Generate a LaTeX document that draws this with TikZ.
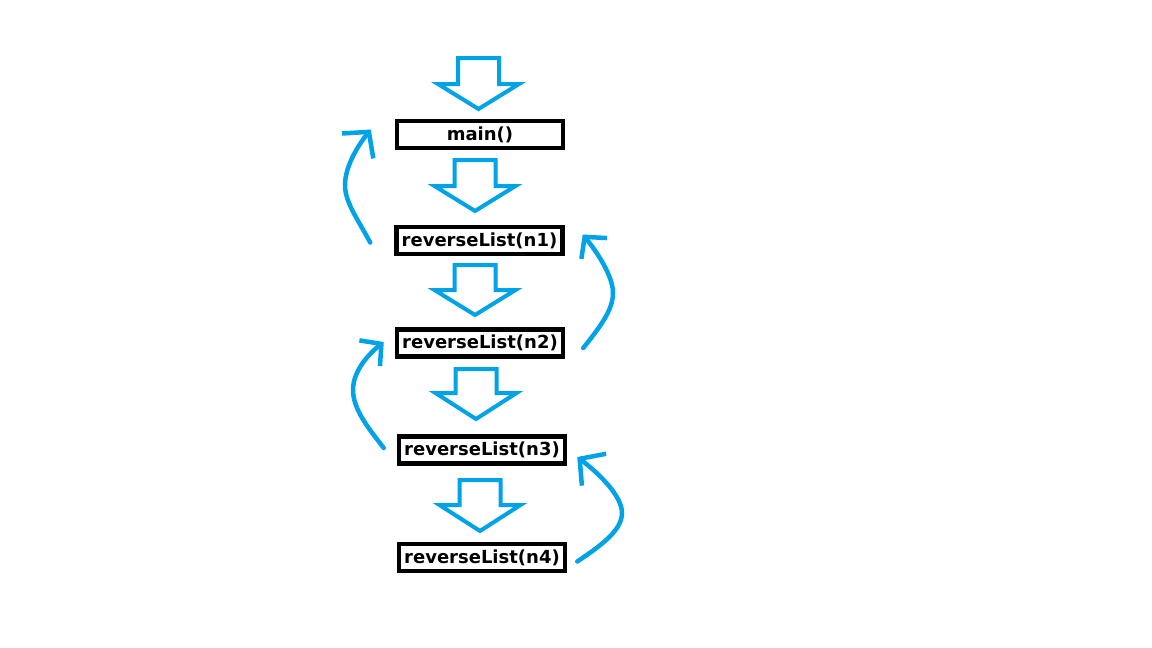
\documentclass[tikz,border=0pt]{standalone}
\usepackage{fontspec}
\setmainfont{DejaVu Sans}
\usetikzlibrary{arrows.meta}
\definecolor{callblue}{RGB}{0,162,232}
\tikzset{
  frame/.style = {draw = black, line width = 4.5pt, minimum width = 166pt, minimum height = 27pt,
                  inner sep = 0pt, font = \fontsize{18}{20}\selectfont\bfseries},
  callarrow/.style = {draw = callblue, line width = 4pt, line join = miter},
  backarrow/.style = {draw = callblue, line width = 4.5pt, line cap = round,
                      -{Straight Barb[length = 15pt, width = 33pt]}},
  bigback/.style = {backarrow, -{Straight Barb[length = 18pt, width = 40pt]}}
}
\begin{document}
\begin{tikzpicture}[x = 1pt, y = -1pt]
        \useasboundingbox[fill = white] (0,0) rectangle (1152,648);
        % call frames
        \node[frame] (main) at (480,134.5) {main()};
        \node[frame] (n1) at (479.5,240.5) {reverseList(n1)};
        \node[frame] (n2) at (480,343) {reverseList(n2)};
        \node[frame] (n3) at (482,450) {reverseList(n3)};
        \node[frame] (n4) at (482,557.5) {reverseList(n4)};
        % calls going down
        \foreach \cx/\top/\sh/\tip in {478.5/58/84/109, 475/160/186/211, 475/265/290/315,
                                       476/369/393/419, 480/480/505/531}
            \draw[callarrow] ({\cx-20.5},\top) -- ({\cx+20.5},\top) -- ({\cx+20.5},\sh)
                -- ({\cx+40.5},\sh) -- (\cx,\tip) -- ({\cx-40.5},\sh) -- ({\cx-20.5},\sh) -- cycle;
        % returns going up
        \coordinate (r1a) at ([xshift = -24pt, yshift = -2pt]n1.west);
        \coordinate (r1b) at ([xshift = -24pt, yshift = 5pt]main.west);
        \coordinate (r2a) at ([xshift = 18pt, yshift = -5pt]n2.east);
        \coordinate (r2b) at ([xshift = 18pt, yshift = 6pt]n1.east);
        \coordinate (r3a) at ([xshift = -13pt, yshift = 2pt]n3.west);
        \coordinate (r3b) at ([xshift = -11pt, yshift = 1pt]n2.west);
        \coordinate (r4a) at ([xshift = 10pt, yshift = -4pt]n4.east);
        \coordinate (r4b) at ([xshift = 10pt, yshift = -7pt]n3.east);
        \draw[bigback] (r1a) .. controls (357,218) and (345,202) .. (345,185)
            .. controls (345,165) and (360,143) .. (r1b);
        \draw[backarrow] (r2a) .. controls (600,327) and (613,310) .. (613,293)
            .. controls (613,276) and (597,252) .. (r2b);
        \draw[backarrow] (r3a) .. controls (370,430) and (353,410) .. (353,390)
            .. controls (353,370) and (370,353) .. (r3b);
        \draw[bigback] (r4a) .. controls (602,545) and (622,530) .. (622,513)
            .. controls (622,495) and (597,472) .. (r4b);
\end{tikzpicture}
\end{document}
